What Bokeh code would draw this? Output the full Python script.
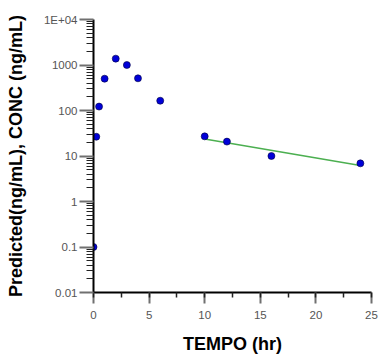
from bokeh.plotting import figure
from bokeh.models import Range1d, FixedTicker, SingleIntervalTicker, CustomJSTickFormatter
from bokeh.embed import file_html
from bokeh.resources import INLINE

# Observed concentrations
time_hr = [0, 0.25, 0.5, 1, 2, 3, 4, 6, 10, 12, 16, 24]
conc = [0.1, 26.5, 122, 500, 1380, 1000, 510, 164, 27, 20.7, 10, 6.9]

# Predicted (terminal phase fit)
pred_time = [10, 24]
pred_conc = [23.7, 6.2]

y_ticks = [0.01, 0.1, 1, 10, 100, 1000, 10000]
y_minor = [m * t for t in y_ticks[:-1] for m in range(2, 10)]

p = figure(width=378, height=360, output_backend="svg", toolbar_location=None,
           y_axis_type="log",
           x_range=Range1d(0, 25), y_range=Range1d(0.01, 10000),
           min_border_left=93, min_border_right=7, min_border_top=19, min_border_bottom=68)

p.outline_line_color = None
p.xgrid.grid_line_color = None
p.ygrid.grid_line_color = None
p.background_fill_color = "white"
p.border_fill_color = "white"

p.line(pred_time, pred_conc, line_color="#4CAF50", line_width=1.5)
p.scatter(time_hr, conc, size=7, fill_color="#0000D8", line_color="#000040", line_width=0.6)

# Y axis
ya = p.yaxis[0]
ya.ticker = FixedTicker(ticks=y_ticks, minor_ticks=y_minor)
ya.formatter = CustomJSTickFormatter(code="""
if (tick >= 9999) { return "1E+04"; }
return String(tick);
""")
ya.axis_label = "Predicted(ng/mL), CONC (ng/mL)"
ya.axis_label_text_font = "Liberation Sans"
ya.axis_label_text_font_style = "bold"
ya.axis_label_text_font_size = "18px"
ya.axis_label_text_color = "black"
ya.axis_label_standoff = 15
ya.axis_line_color = "black"
ya.axis_line_width = 2
ya.major_tick_out = 14
ya.major_tick_in = 0
ya.major_tick_line_color = "#707070"
ya.major_tick_line_width = 2
ya.minor_tick_out = 7
ya.minor_tick_in = 0
ya.minor_tick_line_color = "#222222"
ya.minor_tick_line_width = 1
ya.major_label_text_font = "Liberation Sans"
ya.major_label_text_font_size = "11.5px"
ya.major_label_text_color = "#555555"
ya.major_label_standoff = 2

# X axis
xa = p.xaxis[0]
xa.ticker = SingleIntervalTicker(interval=5, num_minor_ticks=2)
xa.axis_label = "TEMPO (hr)"
xa.axis_label_text_font = "Liberation Sans"
xa.axis_label_text_font_style = "bold"
xa.axis_label_text_font_size = "18px"
xa.axis_label_text_color = "black"
xa.axis_label_standoff = 12
xa.axis_line_color = "black"
xa.axis_line_width = 2
xa.major_tick_out = 11
xa.major_tick_in = 0
xa.major_tick_line_color = "#707070"
xa.major_tick_line_width = 2
xa.minor_tick_out = 5
xa.minor_tick_in = 0
xa.minor_tick_line_color = "#222222"
xa.minor_tick_line_width = 1.5
xa.major_label_text_font = "Liberation Sans"
xa.major_label_text_font_size = "11.5px"
xa.major_label_text_color = "#555555"
xa.major_label_standoff = 7

open("out.html", "w").write(file_html(p, INLINE))
